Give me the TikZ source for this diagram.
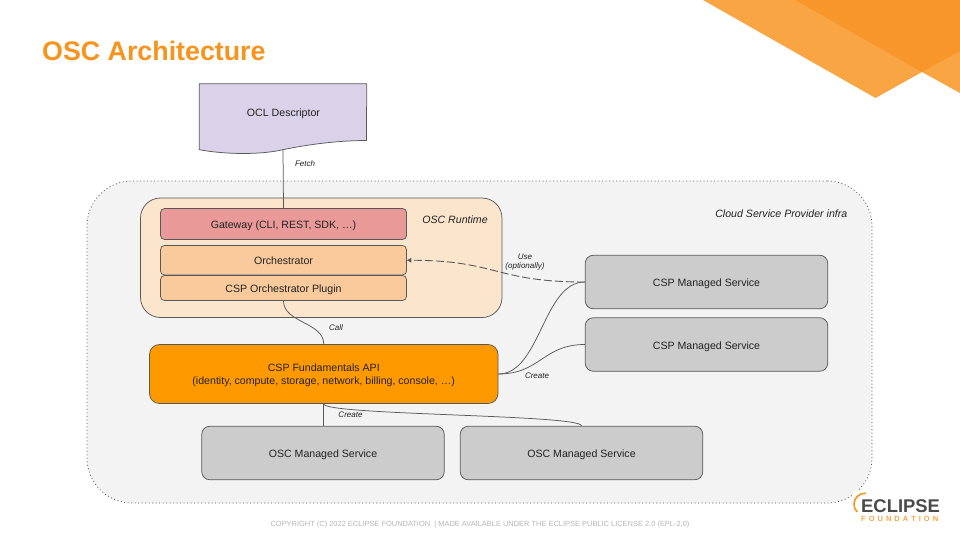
\documentclass[tikz,border=0pt]{standalone}
\usepackage{fontspec}
\setmainfont{Liberation Sans}
\usetikzlibrary{arrows.meta}
\definecolor{lightor}{HTML}{F9A544}
\definecolor{darkor}{HTML}{F7962A}
\definecolor{titleor}{HTML}{F7941E}
\definecolor{edge}{HTML}{595959}
\definecolor{cloudbg}{HTML}{F3F3F3}
\definecolor{purp}{HTML}{D9D2E9}
\definecolor{rt}{HTML}{FCE5CD}
\definecolor{gw}{HTML}{EA9999}
\definecolor{orch}{HTML}{F9CB9C}
\definecolor{apibg}{HTML}{FF9900}
\definecolor{svc}{HTML}{CCCCCC}
\definecolor{foot}{HTML}{B7B7B7}
\definecolor{ink}{HTML}{222222}
\definecolor{logoink}{HTML}{4A4A4A}
\tikzset{
  x=1pt,y=-1pt,
  boxnode/.style={draw=edge,line width=0.75pt,text=ink,font=\fontsize{10.6}{13}\selectfont,align=center,inner sep=0pt,anchor=center},
  oneline/.style={text height=9pt,text depth=0pt},
  wire/.style={draw=edge,line width=0.75pt},
  lab/.style={text=ink,font=\fontsize{8}{9.5}\selectfont\itshape,align=center,inner sep=0pt},
  biglab/.style={text=ink,font=\fontsize{10.6}{13}\selectfont\itshape,inner sep=0pt},
  svcbox/.style={boxnode,oneline,fill=svc,rounded corners=8pt,minimum width=242.5pt,minimum height=53.5pt},
  innerbox/.style={boxnode,oneline,rounded corners=4pt,minimum width=246pt}
}
\begin{document}
\begin{tikzpicture}
\useasboundingbox (0,0) rectangle (960,540);
\fill[white] (0,0) rectangle (960,540);
% corner decoration
\fill[lightor] (703,0) -- (875.5,98) -- (922,72) -- (960,93) -- (960,0) -- cycle;
\fill[darkor] (795,0) -- (922,72) -- (960,51) -- (960,0) -- cycle;
% title
\node[anchor=west,inner sep=0pt,text=titleor,font=\fontsize{26.8}{32}\selectfont\bfseries] (title) at (42,51) {OSC Architecture};
% cloud
\node[draw=edge,line width=0.75pt,dash pattern=on 1pt off 2.5pt,fill=cloudbg,rounded corners=45pt,minimum width=785pt,minimum height=322pt,inner sep=0pt] (cloud) at (479.5,342) {};
\node[biglab,anchor=east] (cloudlab) at (847.5,213.5) {Cloud Service Provider infra};
% runtime
\node[draw=edge,line width=0.75pt,fill=rt,rounded corners=20pt,minimum width=361.5pt,minimum height=119.5pt,inner sep=0pt] (runtime) at (321.25,257.75) {};
\node[biglab] (rtlab) at (455,220) {OSC Runtime};
% descriptor
\node[inner sep=0pt,minimum width=167pt,minimum height=65.5pt] (ocl) at (283,116.75) {};
\draw[draw=edge,line width=0.75pt,fill=purp] (ocl.north west) -- (ocl.north east) -- (366.5,140.5)
  .. controls (340,140.5) and (310,144) .. (ocl.south)
  .. controls (260,155) and (225,154.5) .. (ocl.south west) -- cycle;
\node[oneline,text=ink,font=\fontsize{10.6}{13}\selectfont,inner sep=0pt] (ocltext) at (283.5,112.5) {OCL Descriptor};
% inner boxes
\node[innerbox,fill=gw,minimum height=31pt] (gateway) at (283.5,224) {Gateway (CLI, REST, SDK, …)};
\node[innerbox,fill=orch,minimum height=29.5pt] (orchestrator) at (283.5,260.25) {Orchestrator};
\node[innerbox,fill=orch,minimum height=25pt] (plugin) at (283.5,288) {CSP Orchestrator Plugin};
% api
\node[boxnode,text depth=0pt,fill=apibg,rounded corners=10pt,minimum width=348.5pt,minimum height=59pt] (api) at (323.75,374) {CSP Fundamentals API\\(identity, compute, storage, network, billing, console, …)};
% services
\node[svcbox] (csp1) at (706.5,282) {CSP Managed Service};
\node[svcbox] (csp2) at (706.5,344.5) {CSP Managed Service};
\node[svcbox] (osc1) at (323,453) {OSC Managed Service};
\node[svcbox] (osc2) at (581.5,453) {OSC Managed Service};
% connectors
\draw[wire] (ocl.south) -- (gateway.north);
\draw[wire] (plugin.south) .. controls +(0,22) and +(0,-22) .. (api.north);
\draw[wire] (api.south) -- (api.south |- osc1.north);
\draw[wire] (api.south) .. controls +(0,11.5) and +(0,-11.5) .. (osc2.north);
\draw[wire] (api.east) .. controls +(42,0) and +(-42,0) .. (csp1.west);
\draw[wire] (api.east) .. controls +(42,0) and +(-42,0) .. (csp2.west);
\draw[wire,line width=0.9pt,dash pattern=on 8pt off 3pt,-{Triangle[length=4.5pt,width=4.5pt]}] (csp1.west) .. controls +(-90,0) and +(90,0) .. (orchestrator.east);
% labels
\node[lab] (fetch) at (305,164) {Fetch};
\node[lab] (call) at (336,328) {Call};
\node[lab] (use) at (525,262) {Use\\(optionally)};
\node[lab] (create1) at (537,376) {Create};
\node[lab] (create2) at (350.5,415) {Create};
% footer
\node[text=foot,font=\fontsize{7.45}{9}\selectfont,inner sep=0pt] (footer) at (480,525) {COPYRIGHT (C) 2022 ECLIPSE FOUNDATION \ | MADE AVAILABLE UNDER THE ECLIPSE PUBLIC LICENSE 2.0 (EPL-2.0)};
% logo
\fill[white] (853,491) rectangle (960,530);
\draw[titleor,line width=1.6pt] (857.2,512) arc[start angle=225,end angle=85,radius=11pt];
\node[anchor=west,inner sep=0pt,text=logoink,font=\fontsize{18.4}{20}\selectfont\bfseries] (logo) at (861,506.5) {ECLIPSE};
\node[anchor=west,inner sep=0pt,text=lightor,font=\fontsize{7.5}{9}\selectfont\bfseries] (logo2) at (861,518.5) {F\hspace{3pt}O\hspace{3pt}U\hspace{3pt}N\hspace{3pt}D\hspace{3pt}A\hspace{3pt}T\hspace{3pt}I\hspace{3pt}O\hspace{3pt}N};
\end{tikzpicture}
\end{document}
